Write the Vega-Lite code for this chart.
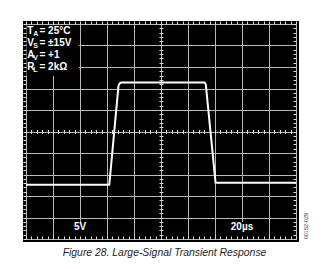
{
  "$schema": "https://vega.github.io/schema/vega-lite/v6.json",
  "width": 270,
  "height": 215,
  "autosize": "none",
  "padding": {"left": 26, "top": 24, "right": 33, "bottom": 30},
  "background": "white",
  "view": {"fill": "black", "stroke": "black", "strokeWidth": 6},
  "datasets": {
    "wave": [
      {"t": 0, "v": -12.4},
      {"t": 61.7, "v": -12.4},
      {"t": 68.5, "v": 10.6},
      {"t": 69.3, "v": 11.2},
      {"t": 70.6, "v": 11.4},
      {"t": 132.4, "v": 11.4},
      {"t": 133.2, "v": 10.9},
      {"t": 140.4, "v": -11.9},
      {"t": 200, "v": -11.9}
    ],
    "one": [{"k": 1}]
  },
  "data": {"name": "wave"},
  "layer": [
    {
      "mark": {"type": "line", "opacity": 0},
      "encoding": {
        "x": {"field": "t", "type": "quantitative", "scale": {"domain": [0, 200], "nice": false, "zero": false}, "axis": {"orient": "bottom", "grid": true, "values": [0,20,40,60,80,100,120,140,160,180,200], "ticks": false, "labels": false, "domain": false, "title": null, "gridColor": "#b8b8b8", "gridOpacity": 1, "gridWidth": 1}},
        "y": {"field": "v", "type": "quantitative", "scale": {"domain": [-25, 25], "nice": false, "zero": false}, "axis": {"orient": "left", "grid": true, "values": [-25,-20,-15,-10,-5,0,5,10,15,20,25], "ticks": false, "labels": false, "domain": false, "title": null, "gridColor": "#b8b8b8", "gridOpacity": 1, "gridWidth": 1}}
      }
    },
    {
      "mark": {"type": "line", "opacity": 0},
      "encoding": {
        "x": {"field": "t", "type": "quantitative", "axis": {"orient": "bottom", "grid": false, "values": [0,4,8,12,16,20,24,28,32,36,40,44,48,52,56,60,64,68,72,76,80,84,88,92,96,100,104,108,112,116,120,124,128,132,136,140,144,148,152,156,160,164,168,172,176,180,184,188,192,196,200], "ticks": true, "tickSize": -3, "tickColor": "#dddddd", "tickWidth": 1, "labels": false, "domain": false, "title": null, "zindex": 1}},
        "y": {"field": "v", "type": "quantitative", "axis": {"orient": "left", "grid": false, "values": [-25,-24,-23,-22,-21,-20,-19,-18,-17,-16,-15,-14,-13,-12,-11,-10,-9,-8,-7,-6,-5,-4,-3,-2,-1,0,1,2,3,4,5,6,7,8,9,10,11,12,13,14,15,16,17,18,19,20,21,22,23,24,25], "ticks": true, "tickSize": 3, "tickColor": "#dddddd", "tickWidth": 1, "labels": false, "domain": false, "title": null, "zindex": 1}}
      }
    },
    {
      "mark": {"type": "line", "opacity": 0},
      "encoding": {
        "x": {"field": "t", "type": "quantitative", "axis": {"orient": "top", "grid": false, "values": [0,4,8,12,16,20,24,28,32,36,40,44,48,52,56,60,64,68,72,76,80,84,88,92,96,100,104,108,112,116,120,124,128,132,136,140,144,148,152,156,160,164,168,172,176,180,184,188,192,196,200], "ticks": true, "tickSize": 3, "tickColor": "#dddddd", "tickWidth": 1, "labels": false, "domain": false, "title": null, "zindex": 1}},
        "y": {"field": "v", "type": "quantitative", "axis": {"orient": "right", "grid": false, "values": [-25,-24,-23,-22,-21,-20,-19,-18,-17,-16,-15,-14,-13,-12,-11,-10,-9,-8,-7,-6,-5,-4,-3,-2,-1,0,1,2,3,4,5,6,7,8,9,10,11,12,13,14,15,16,17,18,19,20,21,22,23,24,25], "ticks": true, "tickSize": -3, "tickColor": "#dddddd", "tickWidth": 1, "labels": false, "domain": false, "title": null, "zindex": 1}}
      }
    },
    {
      "mark": {"type": "line", "opacity": 0},
      "encoding": {
        "x": {"field": "t", "type": "quantitative", "axis": {"orient": "bottom", "offset": -107.5, "grid": false, "values": [0,4,8,12,16,20,24,28,32,36,40,44,48,52,56,60,64,68,72,76,80,84,88,92,96,100,104,108,112,116,120,124,128,132,136,140,144,148,152,156,160,164,168,172,176,180,184,188,192,196,200], "ticks": true, "tickSize": 2, "tickColor": "#dddddd", "tickWidth": 1, "labels": false, "domain": false, "title": null}},
        "y": {"field": "v", "type": "quantitative", "axis": {"orient": "left", "offset": -135, "grid": false, "values": [-25,-24,-23,-22,-21,-20,-19,-18,-17,-16,-15,-14,-13,-12,-11,-10,-9,-8,-7,-6,-5,-4,-3,-2,-1,0,1,2,3,4,5,6,7,8,9,10,11,12,13,14,15,16,17,18,19,20,21,22,23,24,25], "ticks": true, "tickSize": 2, "tickColor": "#dddddd", "tickWidth": 1, "labels": false, "domain": false, "title": null}}
      }
    },
    {
      "mark": {"type": "line", "opacity": 0},
      "encoding": {
        "x": {"field": "t", "type": "quantitative", "axis": {"orient": "top", "offset": -107.5, "grid": false, "values": [0,4,8,12,16,20,24,28,32,36,40,44,48,52,56,60,64,68,72,76,80,84,88,92,96,100,104,108,112,116,120,124,128,132,136,140,144,148,152,156,160,164,168,172,176,180,184,188,192,196,200], "ticks": true, "tickSize": 2, "tickColor": "#dddddd", "tickWidth": 1, "labels": false, "domain": false, "title": null}},
        "y": {"field": "v", "type": "quantitative", "axis": {"orient": "right", "offset": -135, "grid": false, "values": [-25,-24,-23,-22,-21,-20,-19,-18,-17,-16,-15,-14,-13,-12,-11,-10,-9,-8,-7,-6,-5,-4,-3,-2,-1,0,1,2,3,4,5,6,7,8,9,10,11,12,13,14,15,16,17,18,19,20,21,22,23,24,25], "ticks": true, "tickSize": 2, "tickColor": "#dddddd", "tickWidth": 1, "labels": false, "domain": false, "title": null}}
      }
    },
    {
      "data": {"name": "one"},
      "mark": {"type": "rect", "color": "black"},
      "encoding": {
        "x": {"datum": 0.3, "type": "quantitative", "axis": null},
        "x2": {"datum": 39.3},
        "y": {"datum": 24.7, "type": "quantitative", "axis": null},
        "y2": {"datum": 12.9}
      }
    },
    {
      "data": {"name": "one"},
      "mark": {"type": "rect", "color": "black"},
      "encoding": {
        "x": {"datum": 34.8, "type": "quantitative", "axis": null},
        "x2": {"datum": 45.9},
        "y": {"datum": -24.6, "type": "quantitative", "axis": null},
        "y2": {"datum": -21.05}
      }
    },
    {
      "data": {"name": "one"},
      "mark": {"type": "rect", "color": "black"},
      "encoding": {
        "x": {"datum": 150.4, "type": "quantitative", "axis": null},
        "x2": {"datum": 169.6},
        "y": {"datum": -24.6, "type": "quantitative", "axis": null},
        "y2": {"datum": -21.05}
      }
    },
    {
      "mark": {"type": "line", "color": "white", "strokeWidth": 2, "strokeJoin": "round"},
      "encoding": {
        "x": {"field": "t", "type": "quantitative", "axis": null},
        "y": {"field": "v", "type": "quantitative", "axis": null}
      }
    },
    {
      "data": {"name": "one"},
      "mark": {"type": "text", "text": ["T", "V", "A", "R"], "lineHeight": 11.9, "align": "left", "baseline": "alphabetic", "dx": 1.3, "dy": 10.4, "font": "Liberation Sans", "fontWeight": "bold", "fontSize": 10, "color": "white"},
      "encoding": {
        "x": {"datum": 0, "type": "quantitative", "axis": null},
        "y": {"datum": 25, "type": "quantitative", "axis": null}
      }
    },
    {
      "data": {"name": "one"},
      "mark": {"type": "text", "text": ["A", "S", "V", "L"], "lineHeight": 11.9, "align": "left", "baseline": "alphabetic", "dx": 7.2, "dy": 12.2, "font": "Liberation Sans", "fontWeight": "bold", "fontSize": 7, "color": "white"},
      "encoding": {
        "x": {"datum": 0, "type": "quantitative", "axis": null},
        "y": {"datum": 25, "type": "quantitative", "axis": null}
      }
    },
    {
      "data": {"name": "one"},
      "mark": {"type": "text", "text": ["= 25°C", "= ±15V", "= +1", "= 2kΩ"], "lineHeight": 11.9, "align": "left", "baseline": "alphabetic", "dx": 13.5, "dy": 10.4, "font": "Liberation Sans", "fontWeight": "bold", "fontSize": 10, "color": "white"},
      "encoding": {
        "x": {"datum": 0, "type": "quantitative", "axis": null},
        "y": {"datum": 25, "type": "quantitative", "axis": null}
      }
    },
    {
      "data": {"name": "one"},
      "mark": {"type": "text", "text": "5V", "align": "center", "baseline": "alphabetic", "font": "Liberation Sans", "fontWeight": "bold", "fontSize": 10, "color": "white"},
      "encoding": {
        "x": {"datum": 40, "type": "quantitative", "axis": null},
        "y": {"datum": -22.9, "type": "quantitative", "axis": null}
      }
    },
    {
      "data": {"name": "one"},
      "mark": {"type": "text", "text": "20µs", "align": "center", "baseline": "alphabetic", "font": "Liberation Sans", "fontWeight": "bold", "fontSize": 10, "color": "white"},
      "encoding": {
        "x": {"datum": 160, "type": "quantitative", "axis": null},
        "y": {"datum": -22.9, "type": "quantitative", "axis": null}
      }
    },
    {
      "data": {"name": "one"},
      "mark": {"type": "text", "text": "00152-029", "angle": 270, "align": "center", "baseline": "middle", "font": "Liberation Sans", "fontSize": 5.5, "color": "#333333"},
      "encoding": {
        "x": {"datum": 207.4, "type": "quantitative", "axis": null},
        "y": {"datum": -22.0, "type": "quantitative", "axis": null}
      }
    },
    {
      "data": {"name": "one"},
      "mark": {"type": "text", "text": "Figure 28. Large-Signal Transient Response", "align": "center", "baseline": "alphabetic", "font": "Liberation Sans", "fontStyle": "italic", "fontSize": 10.4, "color": "#231f20"},
      "encoding": {
        "x": {"datum": 102.6, "type": "quantitative", "axis": null},
        "y": {"datum": -28.9, "type": "quantitative", "axis": null}
      }
    }
  ],
  "resolve": {"axis": {"x": "independent", "y": "independent"}}
}
